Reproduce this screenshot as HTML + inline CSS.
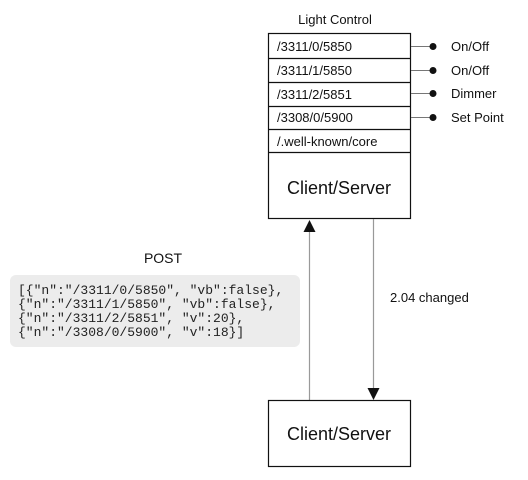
<!DOCTYPE html>
<html><head><style>
body{margin:0;background:#fff;}
svg{display:block;}
.s{font-family:"Liberation Sans",sans-serif;fill:#111;}
.m{font-family:"Liberation Mono",monospace;font-size:13px;fill:#222;}
</style></head><body>
<svg width="528" height="480" viewBox="0 0 528 480" xmlns="http://www.w3.org/2000/svg">
<text class="s" x="335" y="24" font-size="13" text-anchor="middle">Light Control</text>
<rect x="268.5" y="33.5" width="142" height="185" fill="#fff" stroke="#111" stroke-width="1.2"/>
<g stroke="#111" stroke-width="1.2">
<line x1="268" y1="58.5" x2="411" y2="58.5"/>
<line x1="268" y1="82.5" x2="411" y2="82.5"/>
<line x1="268" y1="106.5" x2="411" y2="106.5"/>
<line x1="268" y1="129.5" x2="411" y2="129.5"/>
<line x1="268" y1="152.5" x2="411" y2="152.5"/>
</g>
<g class="s" font-size="13">
<text x="277" y="51">/3311/0/5850</text>
<text x="277" y="75">/3311/1/5850</text>
<text x="277" y="99">/3311/2/5851</text>
<text x="277" y="122">/3308/0/5900</text>
<text x="277" y="146">/.well-known/core</text>
<text x="339" y="194" font-size="18" text-anchor="middle">Client/Server</text>
</g>
<g stroke="#777" stroke-width="1">
<line x1="411" y1="46.5" x2="432" y2="46.5"/>
<line x1="411" y1="70.5" x2="432" y2="70.5"/>
<line x1="411" y1="93.5" x2="432" y2="93.5"/>
<line x1="411" y1="117.5" x2="432" y2="117.5"/>
</g>
<g fill="#111">
<circle cx="433" cy="46.5" r="3.5"/><circle cx="433" cy="70.5" r="3.5"/>
<circle cx="433" cy="93.5" r="3.5"/><circle cx="433" cy="117.5" r="3.5"/>
</g>
<g class="s" font-size="13">
<text x="451" y="51">On/Off</text>
<text x="451" y="75">On/Off</text>
<text x="451" y="98">Dimmer</text>
<text x="451" y="122">Set Point</text>
</g>
<line x1="309.5" y1="230" x2="309.5" y2="400" stroke="#999" stroke-width="1.2"/>
<polygon points="309.5,220 303.5,232 315.5,232" fill="#111"/>
<line x1="373.5" y1="219" x2="373.5" y2="390" stroke="#999" stroke-width="1.2"/>
<polygon points="373.5,400 367.5,388 379.5,388" fill="#111"/>
<text class="s" x="390" y="302" font-size="13">2.04 changed</text>
<rect x="268.5" y="400.5" width="142" height="66" fill="#fff" stroke="#111" stroke-width="1.2"/>
<text class="s" x="339" y="440" font-size="18" text-anchor="middle">Client/Server</text>
<text class="s" x="163" y="263" font-size="14" text-anchor="middle">POST</text>
<rect x="10" y="275" width="290" height="72" rx="6" fill="#ececec"/>
<text class="m" x="18" y="294">[{"n":"/3311/0/5850", "vb":false},</text>
<text class="m" x="18" y="308">{"n":"/3311/1/5850", "vb":false},</text>
<text class="m" x="18" y="322">{"n":"/3311/2/5851", "v":20},</text>
<text class="m" x="18" y="336">{"n":"/3308/0/5900", "v":18}]</text>
</svg>
</body></html>
